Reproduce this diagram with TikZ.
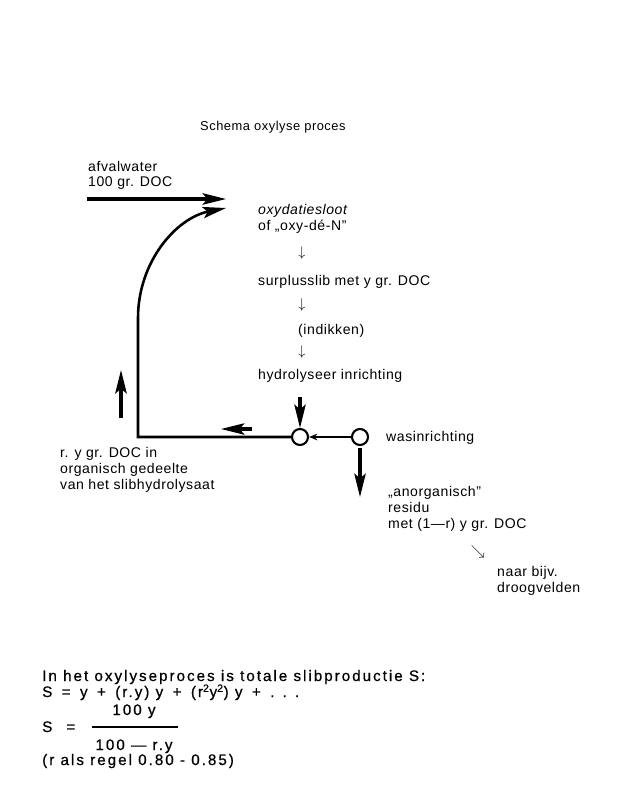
\documentclass[tikz,border=0pt]{standalone}
\usepackage{fontspec}
\setmainfont{Liberation Sans}[LetterSpace=4]
\newfontfamily\sumfont[LetterSpace=13,FakeBold=0.6]{Liberation Sans}
\usetikzlibrary{arrows.meta,positioning}

\newcommand{\opsp}[1]{\hspace{8pt}#1\hspace{8pt}}

\tikzset{
  lbl/.style={font=\fontsize{12}{13.6}\selectfont, inner sep=0pt, anchor=base west, align=left},
  flow/.style={line width=2.6pt, -{Stealth[length=7mm,width=3.4mm,inset=1.4mm]}},
  vessel/.style={circle, draw, line width=1.8pt, minimum size=4.8mm, inner sep=0pt},
  sumtxt/.style={font=\sumfont\fontsize{13}{14}\selectfont, inner sep=0pt, anchor=base west},
}

\begin{document}
\begin{tikzpicture}[x=0.03cm, y=-0.03cm]
    \useasboundingbox (0,0) rectangle (616,796);
    \node[lbl,font=\fontsize{11}{12}\selectfont] (title) at (200,131) {Schema oxylyse proces};
    % toevoer
    \node[lbl] (afval) at (88,187) {afvalwater\\100 gr. DOC};
    \coordinate (inlet) at (87,199);
    \coordinate (oxin) at (226,199);
    \draw[flow] (inlet) -- (oxin);
    % processtappen
    \node[lbl] (oxy) at (258,230) {\textit{oxydatiesloot}\\of „oxy-dé-N"};
    \node[lbl,anchor=center] (d1) at (302,253) {$\downarrow$};
    \node[lbl] (surplus) at (258,285) {surplusslib met y gr. DOC};
    \node[lbl,anchor=center] (d2) at (302,305) {$\downarrow$};
    \node[lbl] (indik) at (298,334) {(indikken)};
    \node[lbl,anchor=center] (d3) at (302,352) {$\downarrow$};
    \node[lbl] (hydtxt) at (258,379) {hydrolyseer inrichting};
    \node[vessel] (hyd) at (300,437) {};
    \node[vessel] (was) at (360,437) {};
    \node[lbl] (wastxt) at (386,441) {wasinrichting};
    \coordinate (hydin) at (300,397);
    \draw[flow] (hydin) -- (hyd.north);
    \draw[line width=1.6pt,-{Stealth[length=2.5mm,width=2mm]}] (was) -- (hyd);
    % residu
    \coordinate (resout) at (360,497);
    \draw[flow,shorten <=2pt] (was.south) -- (resout);
    \node[lbl] (residu) at (388,528) {„anorganisch"\\residu\\met (1—r) y gr. DOC};
    \node[lbl,anchor=center] (d4) at (478,552) {$\searrow$};
    \node[lbl] (droog) at (497,592) {naar bijv.\\droogvelden};
    % terugvoer hydrolysaat
    \coordinate (corner) at (138,437);
    \coordinate (bend) at (138,318);
    \coordinate (retin) at (226,208);
    \draw[flow,line width=2.2pt] (hyd.west) -- (corner) -- (bend) .. controls (138,262) and (176,218) .. (retin);
    \coordinate (la1) at (252,429);
    \coordinate (la2) at (221,429);
    \draw[flow] (la1) -- (la2);
    \coordinate (ua1) at (121,418);
    \coordinate (ua2) at (121,370);
    \draw[flow,line width=3pt] (ua1) -- (ua2);
    \node[lbl] (hydrol) at (60,489) {r. y gr. DOC in\\organisch gedeelte\\van het slibhydrolysaat};
    % slibproductie
    \node[sumtxt] (sum1) at (42,681) {In het oxylyseproces is totale slibproductie S:};
    \node[sumtxt] (sum2) at (42,697) {S\opsp{=}y\opsp{+}(r.y) y\opsp{+}(r\textsuperscript{2}y\textsuperscript{2}) y\opsp{+}.\hspace{7pt}.\hspace{7pt}.};
    \node[sumtxt,anchor=base] (num) at (134,715) {100 y};
    \node[sumtxt] (lhs) at (42,732) {S\hspace{12pt}=};
    \draw[line width=1pt] (92,727) -- (178,727);
    \node[sumtxt,anchor=base] (den) at (134,750) {100 — r.y};
    \node[sumtxt] (rule) at (42,765) {(r als regel 0.80 - 0.85)};
\end{tikzpicture}
\end{document}
